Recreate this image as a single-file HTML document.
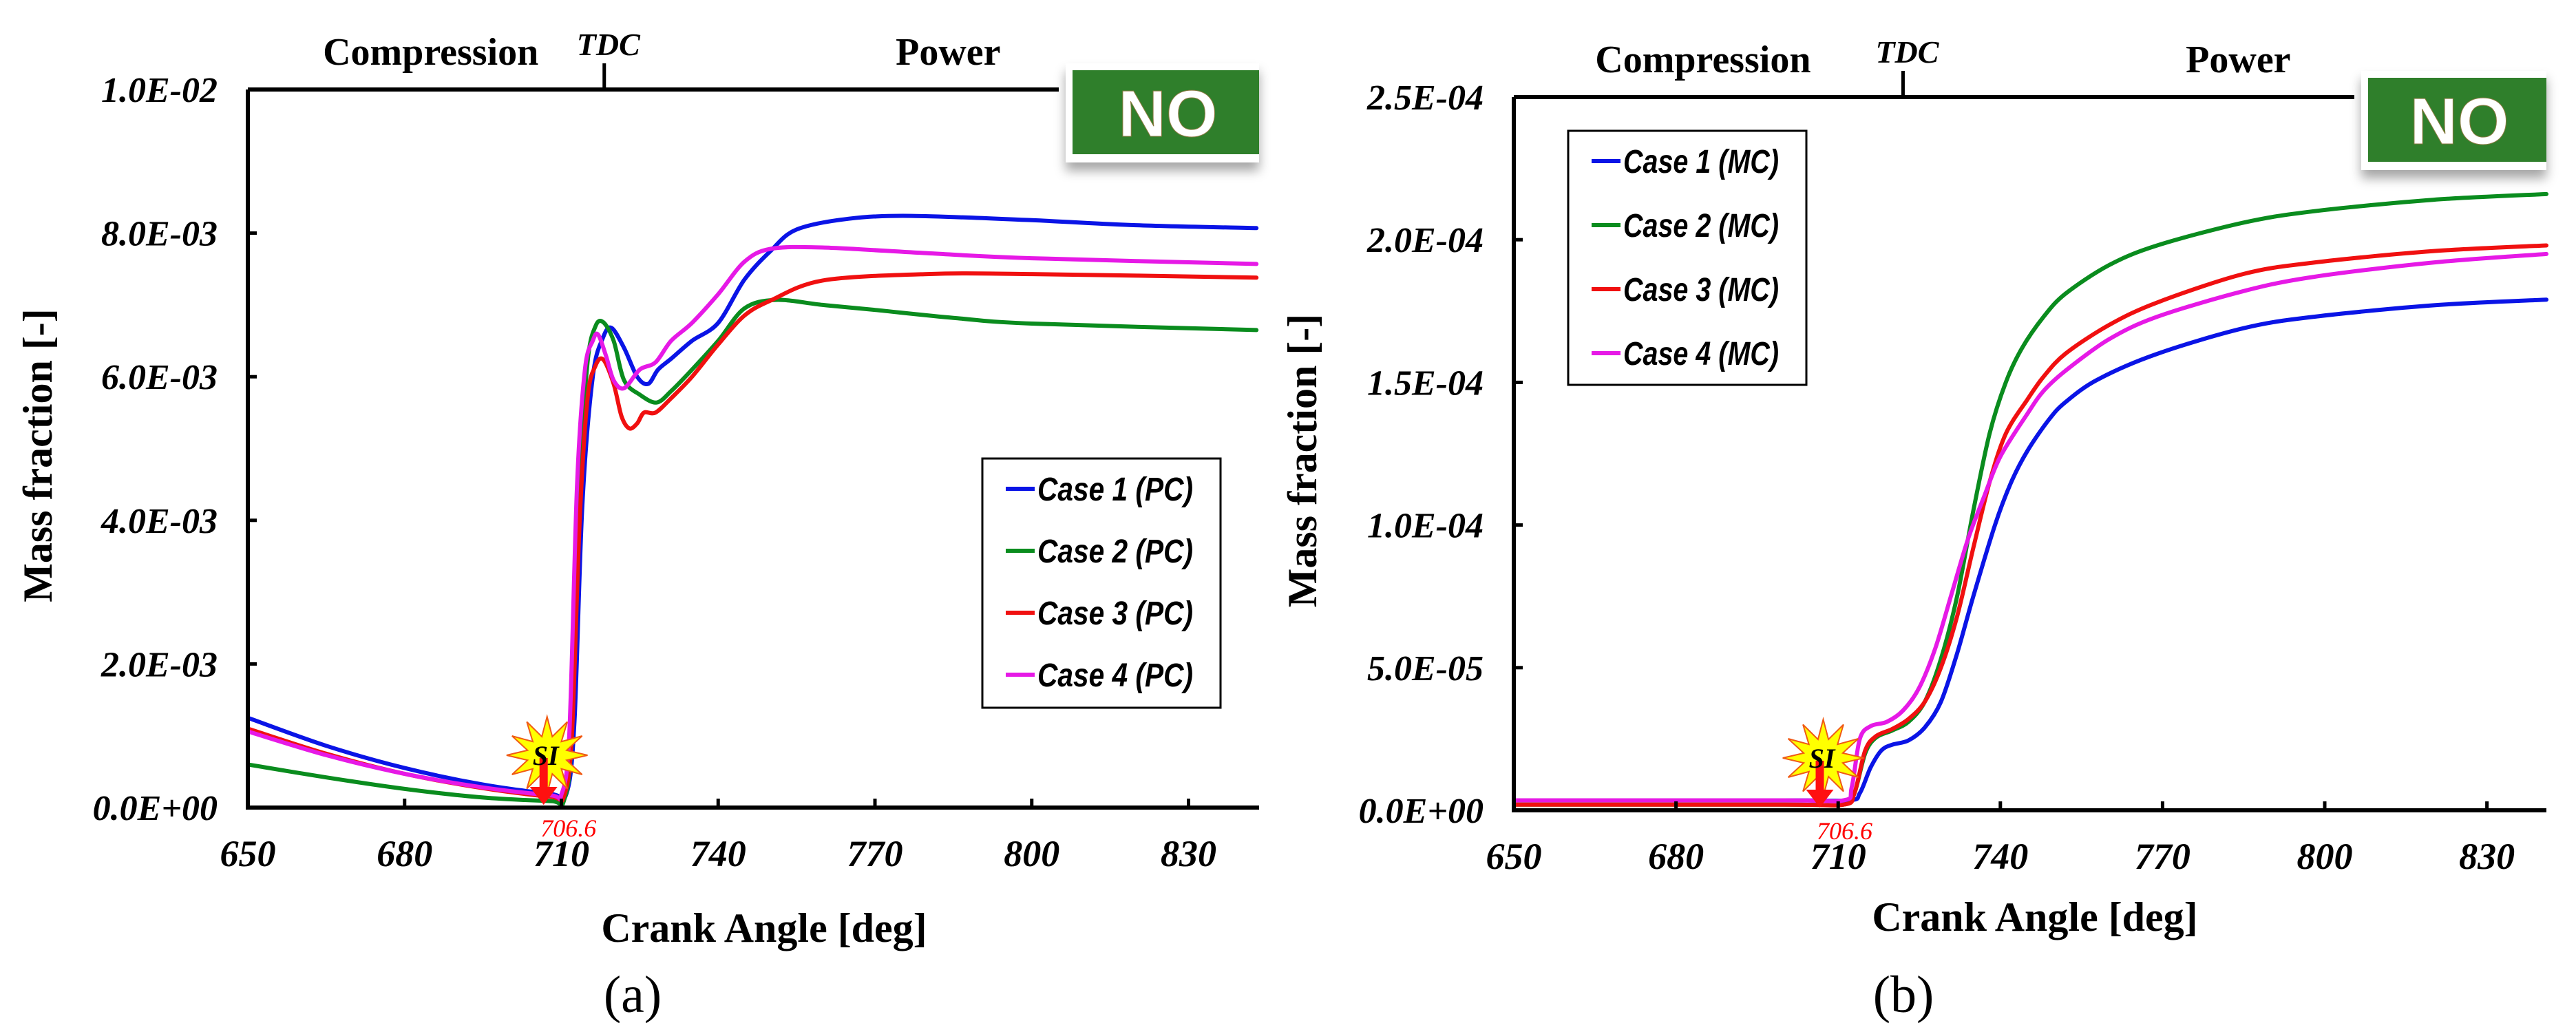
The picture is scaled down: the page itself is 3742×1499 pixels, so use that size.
<!DOCTYPE html>
<html><head><meta charset="utf-8"><style>
html,body{margin:0;padding:0;background:#fff;}
svg{display:block;}
</style></head><body>
<svg id="fig" width="3742" height="1499" viewBox="0 0 3742 1499" xmlns="http://www.w3.org/2000/svg">
<defs>
<filter id="shadow" x="-10%" y="-10%" width="130%" height="160%"><feDropShadow dx="0" dy="12" stdDeviation="8" flood-color="#000" flood-opacity="0.35"/></filter>
</defs>
</svg>
<script>
// ---------- Chart (a) data: NO mass fraction, PC, units 1E-3 ----------
const aCaseNames = ["Case 1 (PC)","Case 2 (PC)","Case 3 (PC)","Case 4 (PC)"];
const aYTicks = [0,2,4,6,8,10];
const aYTickLabels = ["0.0E+00","2.0E-03","4.0E-03","6.0E-03","8.0E-03","1.0E-02"];
const xTickVals = [650,680,710,740,770,800,830];
const a1X = [650,665,680,695,708,711,712.5,714,716,718,719.6,722,724.5,726.6,728.5,731,735,740,745,750,755,765,777,800,820,843];
const a1Y = [1.25,0.86,0.55,0.32,0.19,0.2,1.2,4.2,6.0,6.55,6.68,6.4,6.0,5.9,6.1,6.25,6.5,6.75,7.35,7.75,8.05,8.2,8.24,8.18,8.11,8.07];
const a2X = [650,665,680,695,708,710.5,712,713.5,715,716.5,718,720,722,725,728.2,731,735,740,745,751,760,770,785,800,843];
const a2Y = [0.6,0.42,0.26,0.14,0.09,0.1,1.0,4.5,6.2,6.7,6.76,6.5,5.95,5.75,5.64,5.8,6.1,6.5,6.95,7.07,7.0,6.93,6.82,6.74,6.65];
const a3X = [650,665,680,695,708,710.5,712,713.5,715,716.5,718,720,721.5,723,724.5,725.8,728,731,735,740,745,750,760,780,800,843];
const a3Y = [1.1,0.75,0.47,0.27,0.15,0.16,1.0,4.0,5.7,6.15,6.24,5.9,5.45,5.28,5.35,5.5,5.5,5.7,6.0,6.45,6.85,7.06,7.34,7.43,7.43,7.38];
const a4X = [650,665,680,695,708,710,711.5,713,714.5,716,717,718.5,720,722,725,728,731,735,740,745,750,760,780,800,843];
const a4Y = [1.06,0.73,0.47,0.28,0.17,0.18,1.0,4.5,6.1,6.5,6.59,6.3,5.95,5.84,6.1,6.2,6.5,6.75,7.15,7.6,7.78,7.8,7.72,7.65,7.57];

// ---------- Chart (b) data: NO mass fraction, MC, units 1E-5 ----------
const bCaseNames = ["Case 1 (MC)","Case 2 (MC)","Case 3 (MC)","Case 4 (MC)"];
const bYTicks = [0,5,10,15,20,25];
const bYTickLabels = ["0.0E+00","5.0E-05","1.0E-04","1.5E-04","2.0E-04","2.5E-04"];
const b1X = [650,700,712,714,716,718,720,723,726,729,732,735,739,742,745,749,752,758,769,785,798,820,841];
const b1Y = [0.35,0.35,0.35,0.6,1.5,2.1,2.3,2.45,2.9,3.8,5.5,7.5,10.0,11.5,12.6,13.7,14.3,15.1,16.0,16.9,17.3,17.7,17.9];
const b2X = [650,700,711,713,715,717,720,723,726,729,732,735,738,741,744,748,752,760,769,785,798,820,841];
const b2Y = [0.2,0.2,0.2,0.6,2.0,2.55,2.8,3.1,3.8,5.3,7.5,10.5,13.2,15.0,16.2,17.3,18.1,19.1,19.8,20.6,21.0,21.4,21.6];
const b3X = [650,700,711,713,715,717,720,723,726,729,732,735,738,741,745,748,752,760,769,785,798,820,841];
const b3Y = [0.2,0.2,0.2,0.6,2.1,2.6,2.85,3.2,3.8,5.0,6.8,9.2,11.5,13.2,14.4,15.2,16.0,17.0,17.8,18.8,19.2,19.6,19.8];
const b4X = [650,700,711,712.5,714,716,719,722,725,728,731,734,737,740,745,748,752,760,769,785,798,820,841];
const b4Y = [0.35,0.35,0.35,0.8,2.5,2.95,3.1,3.5,4.3,5.7,7.6,9.5,11.0,12.4,13.9,14.7,15.4,16.5,17.3,18.2,18.7,19.2,19.5];

const colors = ["#0a14e6","#0a8c1e","#f01010","#e619e6"];
const SVGNS = "http://www.w3.org/2000/svg";
const svg = document.getElementById('fig');

function mk(tag, attrs, parent, text){
  const e = document.createElementNS(SVGNS, tag);
  for (const k in attrs) e.setAttribute(k, attrs[k]);
  if (text !== undefined) e.textContent = text;
  (parent || svg).appendChild(e);
  return e;
}
function smoothPath(pts){
  let d = "M" + pts[0][0].toFixed(1) + "," + pts[0][1].toFixed(1);
  const t = 0.16;
  for (let i=0;i<pts.length-1;i++){
    const p0 = pts[i-1]||pts[i], p1=pts[i], p2=pts[i+1], p3=pts[i+2]||pts[i+1];
    const c1x=p1[0]+(p2[0]-p0[0])*t, c1y=p1[1]+(p2[1]-p0[1])*t;
    const c2x=p2[0]-(p3[0]-p1[0])*t, c2y=p2[1]-(p3[1]-p1[1])*t;
    d += " C"+c1x.toFixed(1)+","+c1y.toFixed(1)+" "+c2x.toFixed(1)+","+c2y.toFixed(1)+" "+p2[0].toFixed(1)+","+p2[1].toFixed(1);
  }
  return d;
}

function drawChart(cfg){
  const g = mk('g', {});
  
  
  const L=cfg.left, R=cfg.right, T=cfg.top, B=cfg.bottom;
  const xs = v => L + (v-650)/(cfg.xmax-650)*(R-L);
  const ys = v => B - v/cfg.ymax*(B-T);
  const serif = '"Liberation Serif", serif';

  const sg = mk('g', {}, g);
  
  
  for (let s=0;s<cfg.series.length;s++){
    const [X,Y] = cfg.series[s];
    const pts = X.map((x,i)=>[xs(x), ys(Y[i])]);
    const p = mk('path', {d: smoothPath(pts), fill:'none', stroke:colors[s], 'stroke-width':6, 'stroke-linejoin':'round','stroke-linecap':'round'}, sg);
    
    
  }

  const ax = mk('path', {d:`M${L},${T} L${L},${B} L${R},${B}`, fill:'none', stroke:'#000', 'stroke-width':6}, g);
  
  
  const topAx = mk('line', {x1:L, y1:T, x2:cfg.noX-10, y2:T, stroke:'#000', 'stroke-width':6}, g);
  
  
  const tdcX = xs(cfg.tdc);
  const tt = mk('line', {x1:tdcX, y1:T-38, x2:tdcX, y2:T, stroke:'#000', 'stroke-width':5}, g);
  
  
  const tdc = mk('text', {x:tdcX+6, y:T-50, 'font-family':serif, 'font-size':46, 'font-style':'italic','font-weight':'bold','text-anchor':'middle'}, g, 'TDC');
  
  
  const comp = mk('text', {x:xs(685), y:T-36, 'font-family':serif, 'font-size':56, 'font-weight':'bold','text-anchor':'middle'}, g, 'Compression');
  
  
  const pow = mk('text', {x:xs(784), y:T-36, 'font-family':serif, 'font-size':56, 'font-weight':'bold','text-anchor':'middle'}, g, 'Power');
  
  

  for (let i=0;i<xTickVals.length;i++){
    const x = xs(xTickVals[i]);
    if (i>0){
      const tk = mk('line', {x1:x, y1:B-13, x2:x, y2:B, stroke:'#000','stroke-width':5}, g);
      
      
    }
    const tl = mk('text', {x:x, y:B+85, 'font-family':serif,'font-size':54,'font-style':'italic','font-weight':'bold','text-anchor':'middle'}, g, String(xTickVals[i]));
    
    
  }
  for (let i=0;i<cfg.yTicks.length;i++){
    const y = ys(cfg.yTicks[i]);
    if (i>0 && i<cfg.yTicks.length-1){
      const tk = mk('line', {x1:L, y1:y, x2:L+13, y2:y, stroke:'#000','stroke-width':5}, g);
      
      
    }
    const tl = mk('text', {x:L-44, y:y+18, 'font-family':serif,'font-size':52,'font-style':'italic','font-weight':'bold','text-anchor':'end'}, g, cfg.yTickLabels[i]);
    
    
  }
  const xt = mk('text', {x:cfg.xTitleX, y:cfg.xTitleY, 'font-family':serif,'font-size':60,'font-weight':'bold','text-anchor':'middle'}, g, 'Crank Angle [deg]');
  
  
  const yt = mk('text', {x:0, y:0, 'font-family':serif,'font-size':60,'font-weight':'bold','text-anchor':'middle', transform:`translate(${cfg.yTitleX},${(T+B)/2+10}) rotate(-90)`}, g, 'Mass fraction [-]');
  
  
  const cap = mk('text', {x:cfg.capX, y:1470, 'font-family':serif,'font-size':76,'text-anchor':'middle'}, g, cfg.caption);
  
  

  const nb = mk('g', {}, g);
  
  
  mk('rect', {x:cfg.noX, y:T-38, width:R-cfg.noX, height:144, fill:'#fff', filter:'url(#shadow)'}, nb);
  mk('rect', {x:cfg.noX+10, y:T-28, width:R-cfg.noX-10, height:122, fill:'#2f7f2b'}, nb);
  mk('text', {x:cfg.noX+10+(R-cfg.noX-10)/2+3, y:T+68, 'font-family':'"Liberation Sans", sans-serif','font-size':96,'font-weight':'bold','fill':'#fff','text-anchor':'middle', stroke:'#8a7a40','stroke-width':1}, nb, 'NO');

  const lg = mk('g', {}, g);
  
  
  mk('rect', {x:cfg.legX, y:cfg.legY, width:346, height:cfg.legH, fill:'#fff', stroke:'#000','stroke-width':3}, lg);
  for (let s=0;s<cfg.names.length;s++){
    const ey = cfg.legY + 44 + s*cfg.legStep;
    const e = mk('g', {}, lg);
    
    
    mk('line', {x1:cfg.legX+34, y1:ey, x2:cfg.legX+76, y2:ey, stroke:colors[s], 'stroke-width':6}, e);
    mk('text', {x:cfg.legX+80, y:ey+17, 'font-family':'"Liberation Sans Narrow","Liberation Sans", sans-serif','font-size':48,'font-style':'italic','font-weight':'bold', textLength:226, lengthAdjust:'spacingAndGlyphs'}, e, cfg.names[s]);
  }

  const si = mk('g', {}, g);
  
  
  const cx = xs(706.6)+5, cy = B-76;
  let sp = "";
  for (let k=0;k<24;k++){
    const r = k%2===0 ? 56 : 28;
    const a = -Math.PI/2 + k*Math.PI/12;
    sp += (cx + r*Math.cos(a)*1.05).toFixed(1)+","+(cy + r*Math.sin(a)).toFixed(1)+" ";
  }
  mk('polygon', {points:sp, fill:'#ffff00', stroke:'#f05a14','stroke-width':2}, si);
  const ax0 = xs(706.6);
  mk('polygon', {points:`${ax0-6},${cy+4} ${ax0+6},${cy+4} ${ax0+6},${B-30} ${ax0+20},${B-30} ${ax0},${B-4} ${ax0-20},${B-30} ${ax0-6},${B-30}`, fill:'#ff1010'}, si);
  mk('text', {x:cx-2, y:cy+14, 'font-family':serif,'font-size':40,'font-style':'italic','font-weight':'bold','text-anchor':'middle'}, si, 'SI');
  mk('text', {x:ax0+36, y:B+42, 'font-family':serif,'font-size':36,'font-style':'italic','fill':'#ff0000','text-anchor':'middle'}, si, '706.6');
}

drawChart({name:'chart-a-pc', left:360, right:1829, top:130, bottom:1173, xmax:843.5, ymax:10, tdc:718.2,
  yTicks:aYTicks, yTickLabels:aYTickLabels, series:[[a1X,a1Y],[a2X,a2Y],[a3X,a3Y],[a4X,a4Y]],
  names:aCaseNames, legX:1427, legY:666, legH:362, legStep:90, noX:1548,
  xTitleX:1110, xTitleY:1368, yTitleX:75, capX:919, caption:'(a)'});
drawChart({name:'chart-b-mc', left:2199, right:3699, top:141, bottom:1177, xmax:841, ymax:25, tdc:722,
  yTicks:bYTicks, yTickLabels:bYTickLabels, series:[[b1X,b1Y],[b2X,b2Y],[b3X,b3Y],[b4X,b4Y]],
  names:bCaseNames, legX:2278, legY:190, legH:369, legStep:93, noX:3430,
  xTitleX:2956, xTitleY:1352, yTitleX:1912, capX:2765, caption:'(b)'});
</script>
</body></html>
